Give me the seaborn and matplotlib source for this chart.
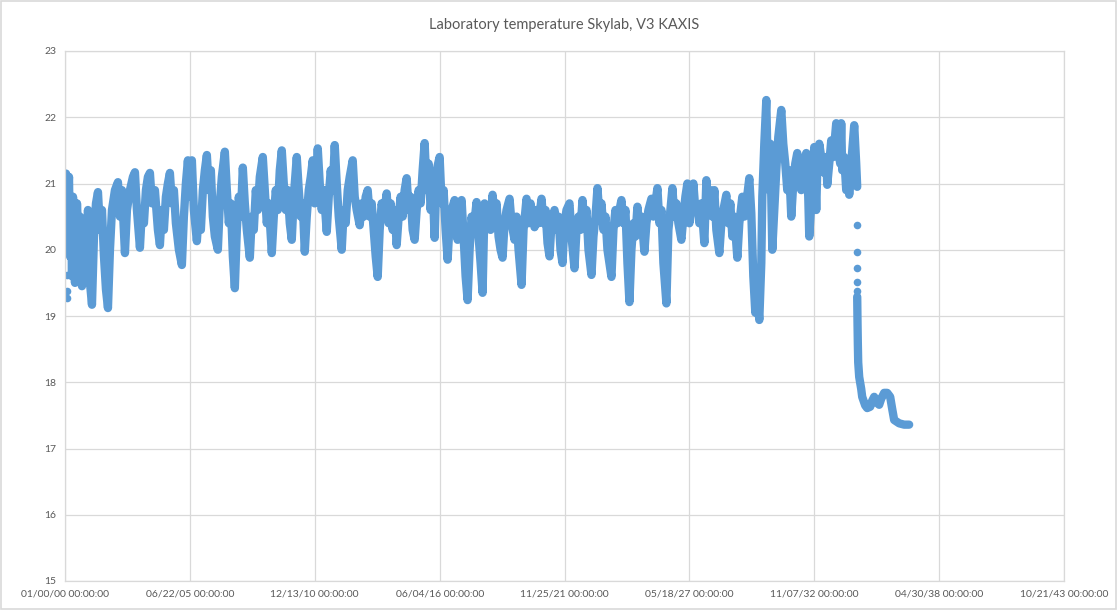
import matplotlib.pyplot as plt
import numpy as np
import seaborn as sns
import pandas as pd

# Excel serial day numbers (x) and temperature readings (y)
days = [
    0, 16, 32, 48, 64, 80, 96, 112, 128, 160, 192, 224, 240, 272, 304, 336, 368, 400, 432, 464,
    496, 528, 560, 592, 624, 656, 688, 720, 752, 800, 848, 880, 912, 960, 992, 1040, 1088, 1120, 1152, 1200,
    1232, 1264, 1296, 1328, 1360, 1392, 1440, 1488, 1520, 1552, 1584, 1616, 1648, 1680, 1712, 1744, 1776, 1824, 1872, 1904,
    1936, 1968,
    2000, 2032, 2064, 2112, 2144, 2176, 2208, 2240, 2272, 2304, 2336, 2368, 2400, 2448, 2480, 2512, 2560, 2592, 2624, 2656,
    2688, 2720, 2752, 2784, 2816, 2848, 2880, 2912, 2960, 2992, 3024, 3056, 3088, 3120, 3168, 3200, 3232, 3264, 3312, 3344,
    3376, 3408, 3440, 3472, 3504, 3536, 3568, 3600, 3632, 3664, 3712, 3744, 3776, 3808, 3840, 3872, 3904, 3936, 3968,
    4000, 4048, 4080, 4112, 4144, 4192, 4224, 4256, 4288, 4320, 4352, 4384, 4432, 4464, 4496, 4528, 4560, 4608, 4640, 4672,
    4720, 4752, 4784, 4816, 4848, 4880, 4912, 4944, 4976, 5008, 5040, 5072, 5104, 5152, 5184, 5216, 5248, 5280, 5312, 5344,
    5376, 5408, 5440, 5472, 5504, 5536, 5568, 5600, 5632, 5664, 5696, 5728, 5760, 5792, 5824, 5856, 5888, 5920, 5952,
    6000, 6032, 6064, 6096, 6128, 6160, 6192, 6240, 6272, 6288, 6320, 6352, 6384, 6416, 6448, 6480, 6512, 6544, 6592, 6624,
    6656, 6688, 6720, 6752, 6784, 6816, 6848, 6880, 6912, 6944, 6976, 7008, 7040, 7072, 7120, 7152, 7200, 7232, 7264, 7312,
    7344, 7392, 7424, 7456, 7488, 7520, 7552, 7584, 7632, 7664, 7696, 7728, 7760, 7792, 7840, 7872, 7904, 7936, 7968,
    8000, 8032, 8080, 8112, 8160, 8192, 8224, 8256, 8288, 8320, 8352, 8384, 8432, 8464, 8496, 8528, 8560, 8592, 8624, 8656,
    8688, 8720, 8752, 8784, 8816, 8848, 8880, 8912, 8944, 8976, 9008, 9040, 9072, 9104, 9136, 9168, 9200, 9232, 9280, 9312,
    9344, 9392, 9424, 9456, 9488, 9520, 9552, 9584, 9632, 9664, 9696, 9728, 9760, 9792, 9824, 9872, 9904, 9936, 9968,
    10000, 10032, 10064, 10096, 10128, 10160, 10192, 10240, 10272, 10304, 10336, 10368, 10400, 10432, 10480, 10512, 10544, 10592, 10624, 10656,
    10688, 10720, 10768, 10800, 10848, 10880, 10912, 10960, 10992, 11024, 11056, 11088, 11120, 11152, 11168, 11200, 11232, 11248, 11280, 11296,
    11328, 11360, 11392, 11424, 11472, 11504, 11536, 11568, 11600, 11632, 11664, 11696, 11728, 11760, 11792, 11824, 11872, 11904, 11920, 11952,
    12000, 12032, 12048, 12080, 12112, 12160, 12192, 12208, 12240, 12272, 12304, 12352, 12384, 12416, 12432, 12448, 12480, 12512, 12544, 12560,
    12592, 12640, 12672, 12688,
]
temps = [
    20.9, 21.15, 20.3, 20.8, 21.1, 19.9, 20.6, 19.6, 20.8, 19.5, 20.7, 19.9, 20.5, 19.45, 20.2, 19.7, 20.6, 19.5, 19.17, 20.2,
    20.7, 20.87, 20.3, 20.6, 19.9, 19.4, 19.12, 20.0, 20.6, 20.9, 21.02, 20.5, 20.9, 19.95, 20.6, 20.9, 21.1, 21.17, 20.6, 20.03,
    20.6, 20.4, 20.9, 21.1, 21.16, 20.7, 20.9, 20.3, 20.07, 20.6, 20.3, 20.8, 21.0, 21.16, 20.7, 20.9, 20.4, 20.0, 19.77, 20.5,
    21.0, 21.35,
    20.8, 21.35, 20.6, 20.13, 20.6, 20.3, 20.9, 21.2, 21.43, 20.9, 21.2, 20.5, 20.2, 20.0, 20.7, 21.1, 21.48, 20.9, 20.4, 20.7,
    19.9, 19.42, 20.3, 20.8, 20.5, 21.24, 20.7, 20.3, 19.88, 20.5, 20.3, 20.9, 20.6, 21.1, 21.4, 20.9, 20.4, 20.7, 19.95, 20.5,
    20.9, 20.6, 21.2, 21.5, 21.0, 20.6, 20.9, 20.4, 20.15, 20.8, 21.4, 20.9, 20.5, 20.7, 19.97, 20.5, 20.9, 21.1, 21.35,
    20.7, 21.53, 21.0, 20.6, 20.9, 20.27, 20.8, 21.2, 20.9, 21.58, 21.0, 20.5, 20.0, 20.6, 20.4, 20.9, 21.1, 21.35, 20.8, 20.6,
    20.37, 20.7, 20.5, 20.8, 20.9, 20.5, 20.7, 20.3, 19.9, 19.59, 20.3, 20.7, 20.5, 20.85, 20.4, 20.7, 20.3, 20.6, 20.07, 20.5,
    20.8, 20.5, 20.9, 21.08, 20.6, 20.8, 20.3, 20.15, 20.6, 20.9, 20.7, 21.2, 21.61, 20.9, 21.3, 20.6, 21.0, 20.18, 21.2,
    21.4, 20.7, 20.9, 20.3, 19.85, 20.4, 20.6, 20.75, 20.3, 20.15, 20.6, 20.75, 20.2, 19.6, 19.24, 20.0, 20.5, 20.3, 20.72, 20.2,
    19.8, 19.35, 20.7, 20.4, 20.6, 20.3, 20.83, 20.5, 20.7, 20.2, 20.0, 19.88, 20.4, 20.6, 20.77, 20.4, 20.15, 20.5, 20.0, 19.47,
    20.3, 20.77, 20.4, 20.7, 20.5, 20.34, 20.6, 20.4, 20.77, 20.4, 20.6, 20.1, 19.9, 20.4, 20.6, 20.3, 20.5, 20.0, 19.8,
    20.4, 20.6, 20.7, 20.2, 19.72, 20.3, 20.5, 20.3, 20.75, 20.4, 20.6, 20.0, 19.62, 20.2, 20.5, 20.93, 20.5, 20.7, 20.3, 20.5,
    20.0, 19.8, 19.59, 20.3, 20.6, 20.4, 20.6, 20.75, 20.4, 20.6, 19.8, 19.21, 20.0, 20.4, 20.2, 20.65, 20.3, 20.5, 19.97, 20.4,
    20.6, 20.77, 20.5, 20.7, 20.93, 20.4, 20.6, 19.8, 19.19, 20.3, 20.6, 20.93, 20.5, 20.7, 20.4, 20.15, 20.5, 20.8, 21.0,
    20.4, 20.7, 21.0, 20.6, 20.65, 20.4, 20.7, 20.1, 21.05, 20.6, 20.9, 20.5, 20.9, 20.3, 19.95, 20.4, 20.6, 20.83, 20.4, 20.7,
    20.2, 20.5, 19.88, 20.4, 20.8, 20.5, 20.7, 21.08, 20.55, 19.6, 19.05, 19.3, 18.94, 19.8, 20.8, 21.6, 22.26, 21.5, 20.9, 21.6,
    20.0, 20.6, 21.2, 21.7, 22.11, 21.6, 21.3, 20.9, 21.2, 20.5, 21.0, 21.3, 21.46, 21.0, 20.9, 21.3, 21.46, 20.8, 20.2, 20.7,
    21.55, 20.6, 21.2, 21.6, 21.4, 21.16, 21.4, 20.98, 21.3, 21.65, 21.4, 21.91, 21.5, 21.3, 21.91, 21.2, 21.4, 20.9, 21.2, 20.83,
    21.3, 21.88, 21.3, 20.95,
]

# cool-down after the last plateau
tail_days = [12688, 12693, 12698, 12704, 12720, 12752, 12768, 12816, 12848, 12896, 12928, 12960,
             12992, 13040, 13072, 13120, 13168, 13216, 13248, 13280, 13360, 13440, 13520]
tail_temps = [19.29, 18.9, 18.59, 18.3, 18.08, 17.9, 17.78, 17.65, 17.61, 17.63, 17.72, 17.78,
              17.7, 17.66, 17.75, 17.84, 17.84, 17.78, 17.6, 17.43, 17.38, 17.36, 17.36]

# single readings that stand apart from the band
stray_days = [40, 40, 40, 12688, 12688, 12688, 12688, 12688]
stray_temps = [19.62, 19.38, 19.27, 20.37, 19.97, 19.72, 19.52, 19.37]

tick_days = [0, 2000, 4000, 6000, 8000, 10000, 12000, 14000, 16000]
tick_labels = ['01/00/00 00:00:00', '06/22/05 00:00:00', '12/13/10 00:00:00', '06/04/16 00:00:00',
               '11/25/21 00:00:00', '05/18/27 00:00:00', '11/07/32 00:00:00', '04/30/38 00:00:00',
               '10/21/43 00:00:00']

df = pd.DataFrame({'day': days, 'temp': temps})
tail = pd.DataFrame({'day': tail_days, 'temp': tail_temps})
strays = pd.DataFrame({'day': stray_days, 'temp': stray_temps})

sns.set_style('white')
plt.rcParams['font.family'] = ['Lato', 'DejaVu Sans']

blue = '#5B9BD5'
grey = '#595959'
grid = '#D9D9D9'

fig = plt.figure(figsize=(11.18, 6.10), dpi=100)
fig.patches.append(plt.Rectangle((0.001, 0.002), 0.997, 0.996, transform=fig.transFigure,
                                 fill=False, edgecolor=grid, linewidth=1.2))
ax = fig.add_axes([65 / 1118, 1 - 581 / 610, (1064 - 65) / 1118, (581 - 51) / 610])

# thick round-capped line stands in for Excel's overlapping round markers
line_kw = dict(color=blue, linewidth=6.0, solid_capstyle='round', solid_joinstyle='round')
sns.lineplot(data=df, x='day', y='temp', sort=False, estimator=None, ax=ax, **line_kw)
sns.lineplot(data=tail, x='day', y='temp', sort=False, estimator=None, ax=ax, **line_kw)
sns.scatterplot(data=strays, x='day', y='temp', color=blue, s=30, linewidth=0, ax=ax)

ax.set_xlim(0, 16000)
ax.set_ylim(15, 23)
ax.set_xticks(tick_days)
ax.set_xticklabels(tick_labels)
ax.set_yticks(range(15, 24))
ax.grid(True, color=grid, linewidth=0.9)
ax.set_axisbelow(True)
for s in ax.spines.values():
    s.set_color(grid)
    s.set_linewidth(0.9)
ax.tick_params(length=0, labelsize=7.5, labelcolor=grey, pad=6)
ax.set_xlabel('')
ax.set_ylabel('')

fig.text(0.505, 1 - 25 / 610, 'Laboratory temperature Skylab, V3 KAXIS', ha='center', va='center',
         fontsize=10.5, color=grey)

plt.savefig('out.png', dpi=100)
